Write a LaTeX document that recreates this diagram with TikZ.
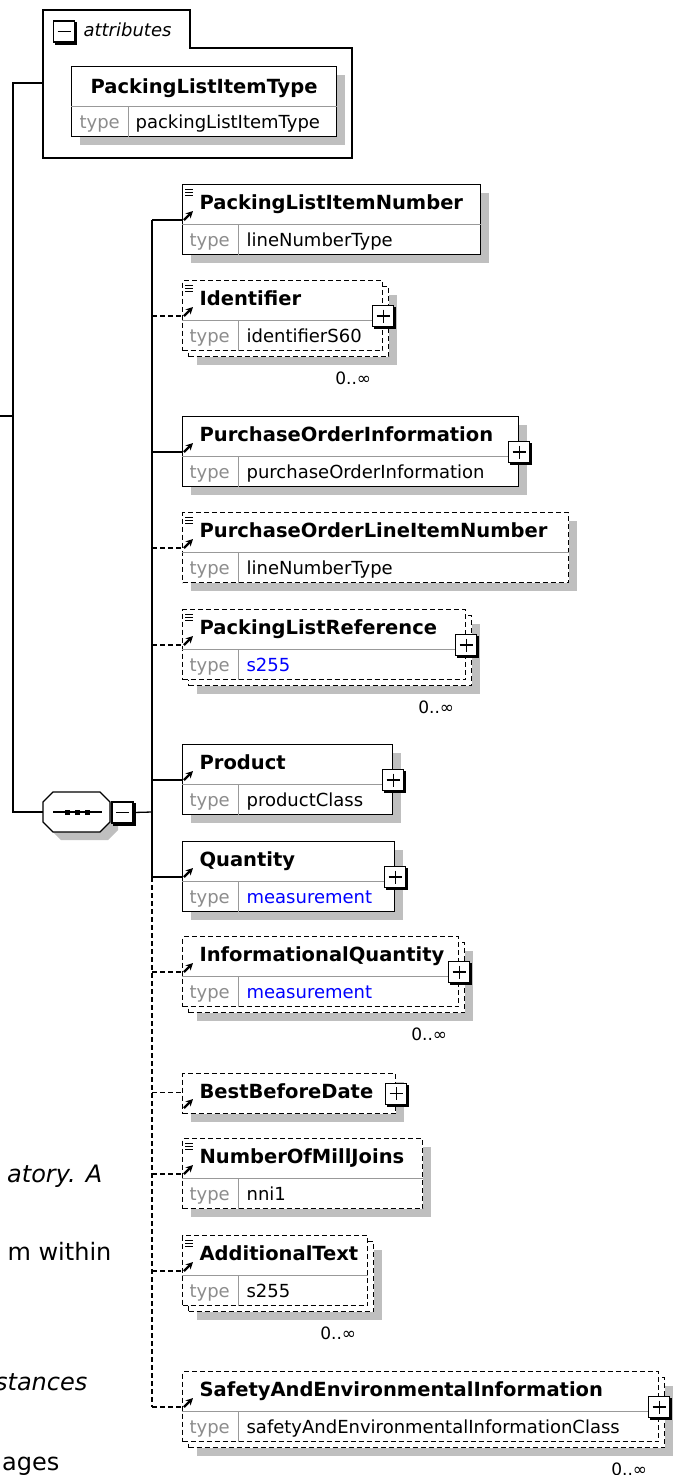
\documentclass[tikz,border=0pt]{standalone}
\usepackage{fontspec}
\setmainfont{DejaVu Sans}
\usetikzlibrary{positioning}
\usetikzlibrary{shadows}
\usetikzlibrary{arrows.meta}

\begin{document}
\begin{tikzpicture}[x=1pt, y=-1pt, line width=1.2pt,
			link/.style={line width=1.3pt},
			optlink/.style={line width=1.3pt, dash pattern=on 5pt off 3pt},
			req-link/.style={link},
			opt-link/.style={optlink},
			optm-link/.style={optlink},
			box/.style={draw, fill=white, anchor=north west, inner sep=0pt, minimum height=70pt,
				drop shadow={shadow xshift=8pt, shadow yshift=-8pt, fill=black!25, opacity=1}},
			req/.style={box},
			opt/.style={box, dash pattern=on 5pt off 3pt},
			optm/.style={draw, fill=white, anchor=north west, inner sep=0pt, minimum height=70pt, dash pattern=on 5pt off 3pt,
				drop shadow={shadow xshift=14pt, shadow yshift=-14pt, fill=black!25, opacity=1},
				copy shadow={shadow xshift=6pt, shadow yshift=-6pt, draw, fill=white, dash pattern=on 5pt off 3pt}},
			ttl/.style={anchor=base west, inner sep=0pt, font=\fontsize{19.5}{22}\selectfont\bfseries},
			typ/.style={anchor=base west, inner sep=0pt, text=black!45, font=\fontsize{18}{21}\selectfont},
			val/.style={anchor=base west, inner sep=0pt, font=\fontsize{18}{21}\selectfont},
			sep/.style={black!40, line width=1pt, solid},
			occ/.style={inner sep=0pt, font=\fontsize{17}{20}\selectfont},
			doc/.style={line width=0.8pt, solid},
			ref/.style={-{Stealth[length=7pt, width=7pt]}, line width=2.2pt, solid},
			page/.style={anchor=base east, inner sep=0pt, font=\fontsize{24}{28}\selectfont},
			plusbox/.style={draw, solid, fill=white, minimum size=21pt, inner sep=0pt,
				copy shadow={shadow xshift=2pt, shadow yshift=-2pt, fill=black, draw=black},
				path picture={
					\draw[line width=1.2pt] ([xshift=4pt]path picture bounding box.west) -- ([xshift=-4pt]path picture bounding box.east);
					\draw[line width=1.2pt] ([yshift=-4pt]path picture bounding box.north) -- ([yshift=4pt]path picture bounding box.south);}},
			minusbox/.style={draw, solid, fill=white, minimum size=21pt, inner sep=0pt,
				copy shadow={shadow xshift=2pt, shadow yshift=-2pt, fill=black, draw=black},
				path picture={
					\draw[line width=1.2pt] ([xshift=4pt]path picture bounding box.west) -- ([xshift=-4pt]path picture bounding box.east);}}]
			\useasboundingbox (0,0) rectangle (674,1475);
			\clip (0,0) rectangle (674,1475);
			\draw (43,10) -- (190,10) -- (190,48) -- (352,48) -- (352,158) -- (43,158) -- cycle;
			\node[minusbox] (attrs-m) at (64,31.5) {};
			\node[anchor=base west, inner sep=0pt, font=\fontsize{18}{21}\selectfont\itshape] (attrs-t) at (83,36) {attributes};
			\coordinate (attrs) at (43,83);
			\node[req, minimum width=265pt] (itemtype) at (71,66) {};
			\node[ttl, anchor=base] (itemtype-t) at ([yshift=-27pt]itemtype.north) {PackingListItemType};
			\draw[sep] ([yshift=-40pt]itemtype.north west) -- ([yshift=-40pt]itemtype.north east);
			\draw[sep] ([xshift=57pt,yshift=-40pt]itemtype.north west) -- ([xshift=57pt]itemtype.south west);
			\node[typ] (itemtype-k) at ([xshift=8pt,yshift=-62pt]itemtype.north west) {type};
			\node[val] (itemtype-v) at ([xshift=64pt,yshift=-62pt]itemtype.north west) {packingListItemType};
			\fill[black!25] (61,800) -- (108,800) -- (118,810) -- (118,830) -- (108,840) -- (61,840) -- (51,830) -- (51,810) -- cycle;
			\draw[fill=white] (53,792) -- (100,792) -- (110,802) -- (110,822) -- (100,832) -- (53,832) -- (43,822) -- (43,802) -- cycle;
			\draw (53,812) -- (102,812);
			\foreach \d in {65,75,85}
				\fill (\d,809.5) rectangle +(5,5);
			\coordinate (seq) at (43,812);
			\node[minusbox] (seq-m) at (122.5,812.5) {};
			\coordinate (trunk) at (152,812);
			\coordinate (root) at (0,416);
			\coordinate (fork) at (13,416);
			\draw[link] (root) -- (fork);
			\draw[link] (attrs) -| (fork) |- (seq);
			\draw[link] (seq-m.east) -- (trunk);
			\foreach \el/\yy/\ww/\kind/\ttl/\val in {
				itemnumber/184/298/req/PackingListItemNumber/lineNumberType,
				identifier/280/200/optm/Identifier/identifierS60,
				poinfo/416/336/req/PurchaseOrderInformation/purchaseOrderInformation,
				polineitem/512/386/opt/PurchaseOrderLineItemNumber/lineNumberType,
				listref/609/283/optm/PackingListReference/\textcolor{blue}{s255},
				product/744/210/req/Product/productClass,
				quantity/841/212/req/Quantity/\textcolor{blue}{measurement},
				infoquantity/936/276/optm/InformationalQuantity/\textcolor{blue}{measurement},
				milljoins/1138/240/opt/NumberOfMillJoins/nni1,
				addtext/1235/185/optm/AdditionalText/s255,
				safety/1371/476/optm/SafetyAndEnvironmentalInformation/safetyAndEnvironmentalInformationClass}{
				\node[\kind, minimum width=\ww pt] (\el) at (182,\yy) {};
				\coordinate (\el-in) at ([yshift=-36pt]\el.north west);
				\draw[\kind-link] (\el-in -| trunk) -- (\el-in);
				\draw[ref] ([xshift=2pt]\el-in) -- ++(9pt,9pt);
				\node[ttl] (\el-t) at ([xshift=17pt,yshift=-25pt]\el.north west) {\ttl};
				\draw[sep] ([yshift=-40pt]\el.north west) -- ([yshift=-40pt]\el.north east);
				\draw[sep] ([xshift=56pt,yshift=-40pt]\el.north west) -- ([xshift=56pt]\el.south west);
				\node[typ] (\el-k) at ([xshift=7pt,yshift=-62pt]\el.north west) {type};
				\node[val] (\el-v) at ([xshift=64pt,yshift=-62pt]\el.north west) {\val};
			}
			\node[opt, minimum width=213pt, minimum height=40pt] (bestbefore) at (182,1073) {};
			\node[ttl] (bestbefore-t) at ([xshift=17pt,yshift=-25pt]bestbefore.north west) {BestBeforeDate};
			\coordinate (bestbefore-in) at ([yshift=-19.5pt]bestbefore.north west);
			\draw[optlink] (bestbefore-in -| trunk) -- (bestbefore-in);
			\draw[ref] ([xshift=2pt,yshift=-35pt]bestbefore.north west) -- ++(9pt,9pt);
			\node[plusbox] (bestbefore-p) at (bestbefore.east) {};
			\draw[link] (itemnumber-in -| trunk) -- (quantity-in -| trunk);
			\draw[optlink] (quantity-in -| trunk) -- (safety-in -| trunk);
			\foreach \el in {identifier,poinfo,listref,product,quantity,infoquantity,safety}
				\node[plusbox] (\el-p) at (\el-in -| \el.east) {};
			\foreach \el in {identifier,listref,infoquantity,addtext,safety}
				\node[occ] (\el-o) at ([xshift=-30pt,yshift=-27pt]\el.south east) {0..∞};
			\foreach \el in {itemnumber,identifier,polineitem,listref,milljoins,addtext}
				\foreach \d in {5,8,11}
					\draw[doc] ([xshift=3pt,yshift=-\d pt]\el.north west) -- ++(8pt,0pt);
			\node[page, font=\fontsize{24}{28}\selectfont\itshape] (txt1) at (103,1182) {atory. A};
			\node[page] (txt2) at (112,1260) {m within};
			\node[page, font=\fontsize{24}{28}\selectfont\itshape] (txt3) at (88,1390) {stances};
			\node[page] (txt4) at (60,1470) {ages};
	\end{tikzpicture}
\end{document}
